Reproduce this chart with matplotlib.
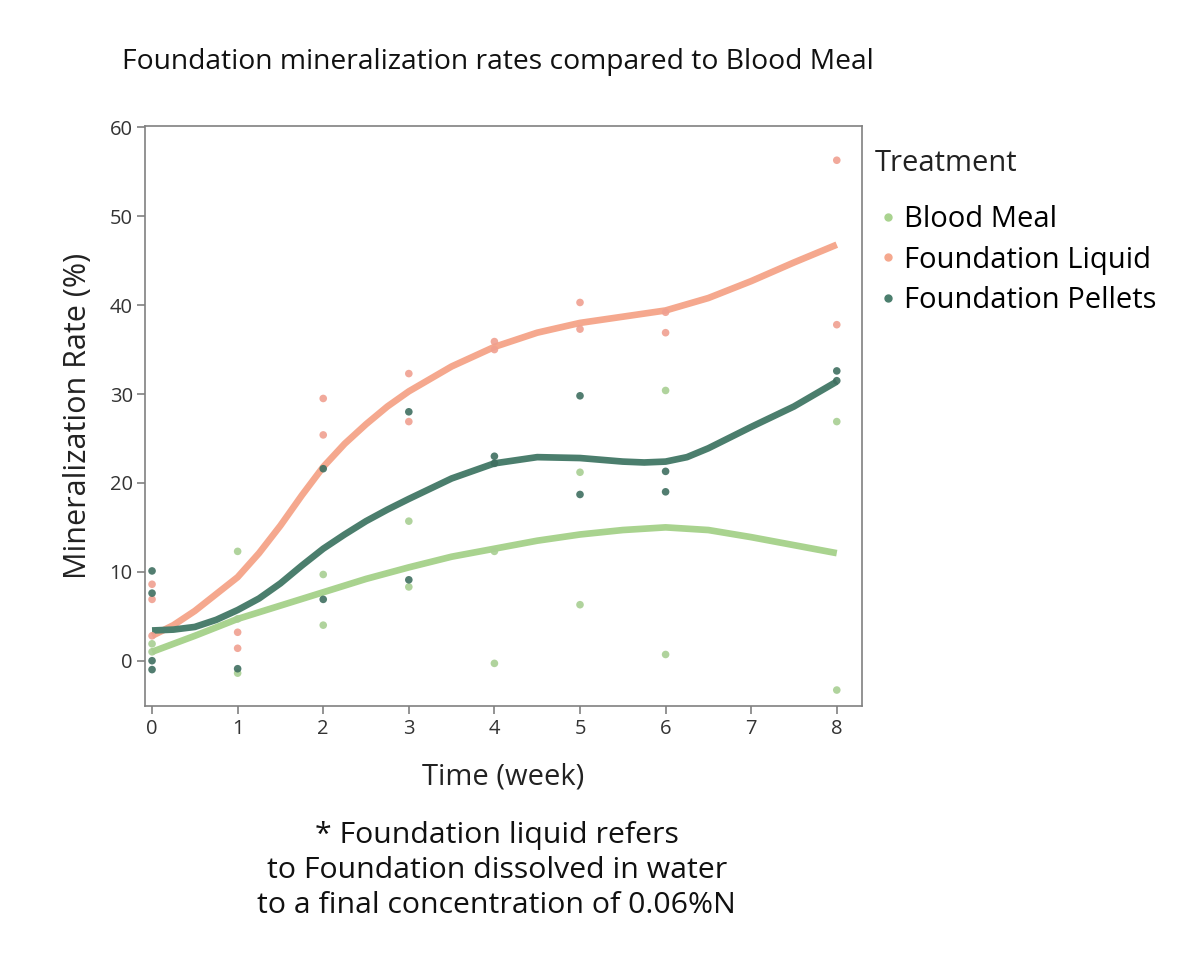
import matplotlib
matplotlib.use('Agg')
import matplotlib.pyplot as plt
from matplotlib.lines import Line2D

plt.rcParams['font.family'] = ['Open Sans', 'DejaVu Sans']

# observed points (week, rate) per treatment
blood_x = [0, 0, 1, 1, 1, 2, 2, 3, 3, 4, 4, 5, 5, 6, 6, 8, 8]
blood_y = [1.9, 1.0, 12.3, 4.7, -1.4, 9.7, 4.0, 15.7, 8.3, -0.3, 12.3, 21.2, 6.3, 30.4, 0.7, 26.9, -3.3]

liquid_x = [0, 0, 0, 1, 1, 2, 2, 3, 3, 4, 4, 5, 5, 6, 6, 8, 8]
liquid_y = [8.6, 6.9, 2.8, 3.2, 1.4, 29.5, 25.4, 32.3, 26.9, 35.9, 35.0, 40.3, 37.3, 39.2, 36.9, 56.3, 37.8]

pellet_x = [0, 0, 0, 0, 1, 2, 2, 3, 3, 4, 4, 5, 5, 6, 6, 8, 8]
pellet_y = [10.1, 7.6, 0.0, -1.0, -0.9, 21.6, 6.9, 28.0, 9.1, 23.0, 22.2, 29.8, 18.7, 21.3, 19.0, 32.6, 31.5]

# smoother curves
blood_fx = [0, 0.5, 1, 1.5, 2, 2.5, 3, 3.5, 4, 4.5, 5, 5.5, 6, 6.5, 7, 7.5, 8]
blood_fy = [1.0, 2.8, 4.7, 6.2, 7.7, 9.2, 10.5, 11.7, 12.6, 13.5, 14.2, 14.7, 15.0, 14.7, 13.9, 13.0, 12.1]

liquid_fx = [0, 0.25, 0.5, 0.75, 1, 1.25, 1.5, 1.75, 2, 2.25, 2.5, 2.75, 3, 3.5, 4, 4.5, 5, 5.5, 6, 6.5, 7, 7.5, 8]
liquid_fy = [2.8, 4.0, 5.6, 7.5, 9.4, 12.1, 15.2, 18.6, 21.8, 24.4, 26.6, 28.6, 30.3, 33.1, 35.3, 36.9, 38.0, 38.7, 39.4, 40.8, 42.7, 44.8, 46.8]

pellet_fx = [0, 0.25, 0.5, 0.75, 1, 1.25, 1.5, 1.75, 2, 2.25, 2.5, 2.75, 3, 3.5, 4, 4.5, 5, 5.5, 5.75, 6, 6.25, 6.5, 7, 7.5, 8]
pellet_fy = [3.4, 3.5, 3.8, 4.6, 5.7, 7.0, 8.7, 10.7, 12.6, 14.2, 15.7, 17.0, 18.2, 20.5, 22.2, 22.9, 22.8, 22.4, 22.3, 22.4, 22.9, 23.9, 26.3, 28.6, 31.4]

c_blood = '#a9d38f'
c_liquid = '#f5a88e'
c_pellet = '#4b7e6d'

fig = plt.figure(figsize=(12, 9.58), dpi=100)
ax = fig.add_axes([0.121, 0.263, 0.597, 0.605])

ax.plot(blood_fx, blood_fy, color=c_blood, lw=4.8, solid_capstyle='butt', solid_joinstyle='round', zorder=2)
ax.plot(liquid_fx, liquid_fy, color=c_liquid, lw=4.8, solid_capstyle='butt', solid_joinstyle='round', zorder=2)
ax.plot(pellet_fx, pellet_fy, color=c_pellet, lw=4.8, solid_capstyle='butt', solid_joinstyle='round', zorder=2)

ax.scatter(blood_x, blood_y, s=30, color='#a8cf92', alpha=0.9, edgecolors='none', zorder=3)
ax.scatter(liquid_x, liquid_y, s=30, color='#f0a090', alpha=0.9, edgecolors='none', zorder=3)
ax.scatter(pellet_x, pellet_y, s=30, color='#3f6f60', alpha=0.9, edgecolors='none', zorder=3)

ax.set_xlim(-0.08, 8.29)
ax.set_ylim(-5.1, 60.1)
ax.set_xticks(range(0, 9))
ax.set_yticks(range(0, 61, 10))
for s in ax.spines.values():
    s.set_color('#808080')
    s.set_linewidth(1.2)
ax.tick_params(colors='#808080', labelcolor='#333333', labelsize=14.5, length=6, width=1.2, pad=3)

ax.set_xlabel('Time (week)', fontsize=21, color='#222222', labelpad=17)
ax.set_ylabel('Mineralization Rate (%)', fontsize=22, color='#222222', labelpad=12)

fig.text(0.102, 0.935, 'Foundation mineralization rates compared to Blood Meal',
         fontsize=20.3, color='#111111', va='center', ha='left')

# legend
fig.text(0.729, 0.829, 'Treatment', fontsize=21, color='#222222', va='center', ha='left')
handles = [Line2D([], [], marker='o', ls='', ms=5, color=c, label=l)
           for c, l in [(c_blood, 'Blood Meal'), (c_liquid, 'Foundation Liquid'), (c_pellet, 'Foundation Pellets')]]
fig.legend(handles=handles, loc='upper left', bbox_to_anchor=(0.730, 0.786),
           frameon=False, fontsize=21, handletextpad=0.15, borderaxespad=0,
           handlelength=0.8, labelspacing=0.4, borderpad=0)

fig.text(0.414, 0.091, '* Foundation liquid refers\nto Foundation dissolved in water\nto a final concentration of 0.06%N',
         fontsize=21.8, ha='center', va='center', color='#111111', linespacing=1.28)

fig.savefig('out.png', dpi=100, facecolor='white')
